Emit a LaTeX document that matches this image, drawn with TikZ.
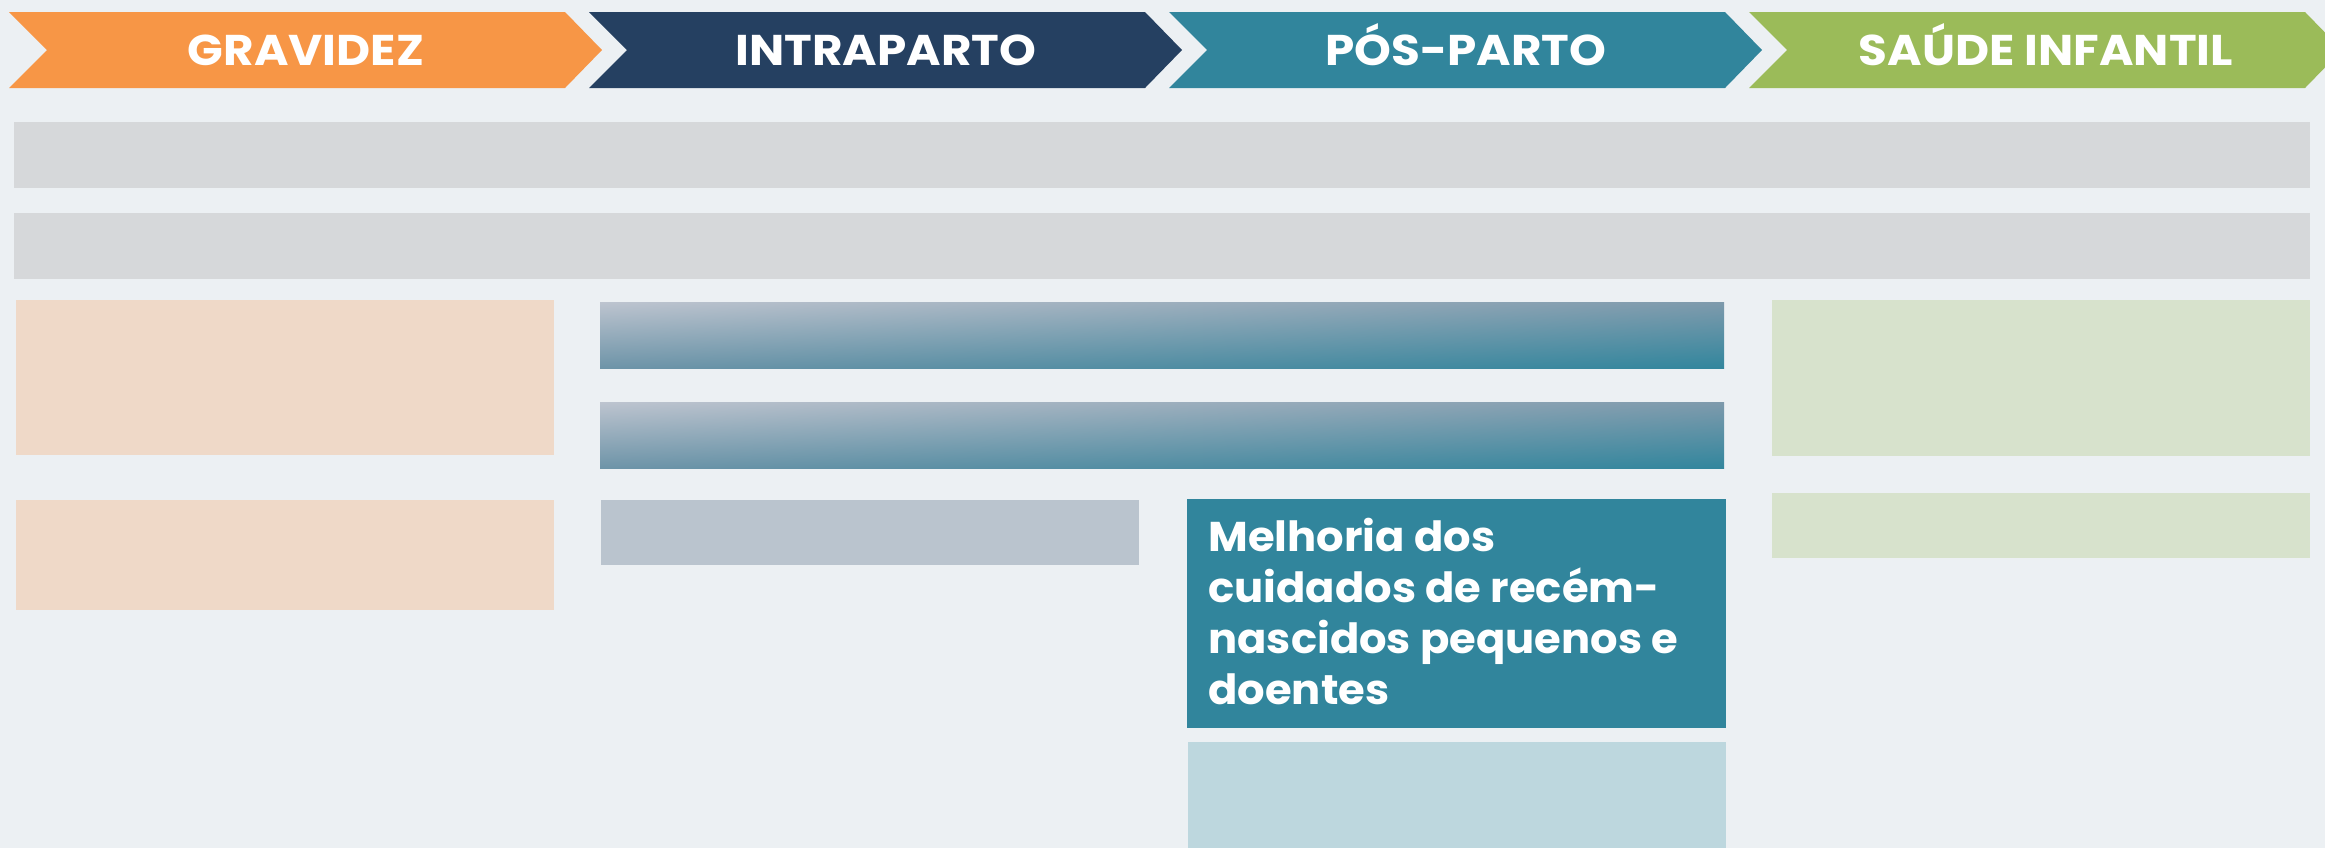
\documentclass[tikz,border=0pt]{standalone}
\usepackage{fontspec}
\usetikzlibrary{shadings}
\newfontfamily\pophead{Poppins}[FakeStretch=1.09]
\newfontfamily\popbody{Poppins}[FakeStretch=1.04]
\definecolor{bgc}{HTML}{ECF0F3}
\definecolor{corange}{HTML}{F79646}
\definecolor{cnavy}{HTML}{254061}
\definecolor{cteal}{HTML}{31859C}
\definecolor{cgreen}{HTML}{9BBB59}
\definecolor{cgrey}{HTML}{D6D8DA}
\definecolor{lorange}{HTML}{EFD9C8}
\definecolor{lslate}{HTML}{BAC4CE}
\definecolor{lgreen}{HTML}{D7E2CC}
\definecolor{lteal}{HTML}{BDD7DE}
\definecolor{gtl}{HTML}{BDC4CF}
\definecolor{gtr}{HTML}{7E9AAC}
\definecolor{gbl}{HTML}{6E94A8}
\definecolor{gbr}{HTML}{32869D}
\begin{document}
\begin{tikzpicture}[x=0.5pt,y=-0.5pt,
  chevtext/.style={text=white,font=\pophead\bfseries\fontsize{21.5}{24}\selectfont,anchor=base,inner sep=0pt},
  bodytext/.style={text=white,font=\popbody\bfseries\fontsize{20.8}{25.5}\selectfont,anchor=north west,inner sep=0pt,align=left},
  gradbar/.style={upper left=gtl,upper right=gtr,lower left=gbl,lower right=gbr}]
\useasboundingbox (0,0) rectangle (2325,848);
\fill[bgc] (0,0) rectangle (2325,848);
\begin{scope}
\clip (0,0) rectangle (2325,848);
% chevrons
\foreach \xs/\col/\nm in {9/corange/c1,589/cnavy/c2,1169/cteal/c3,1749/cgreen/c4}{
  \fill[\col] (\xs,12) -- (\xs+556,12) -- (\xs+593,50) -- (\xs+556,88) -- (\xs,88) -- (\xs+38,50) -- cycle;
  \coordinate (\nm) at (\xs+297,65);
}
\end{scope}
\node[chevtext] (t1) at (c1) {GRAVIDEZ};
\node[chevtext] (t2) at (c2) {INTRAPARTO};
\node[chevtext] (t3) at (c3) {PÓS-PARTO};
\node[chevtext] (t4) at (c4) {SAÚDE INFANTIL};
% full-width bars
\fill[cgrey] (14,122) rectangle (2310,188);
\fill[cgrey] (14,213) rectangle (2310,279);
% left column
\fill[lorange] (16,300) rectangle (554,455);
\fill[lorange] (16,500) rectangle (554,610);
% middle gradient bars
\shade[gradbar] (600,302) rectangle (1724,368);
\shade[gradbar] (600,402) rectangle (1724,468);
\fill[lslate] (601,500) rectangle (1139,565);
% teal box
\fill[cteal] (1187,499) rectangle (1726,728);
\node[bodytext] (mt) at (1208,518) {Melhoria dos\\cuidados de recém-\\nascidos pequenos e\\doentes};
\fill[lteal] (1188,742) rectangle (1726,848);
% right column
\fill[lgreen] (1772,300) rectangle (2310,456);
\fill[lgreen] (1772,493) rectangle (2310,558);
\end{tikzpicture}
\end{document}
